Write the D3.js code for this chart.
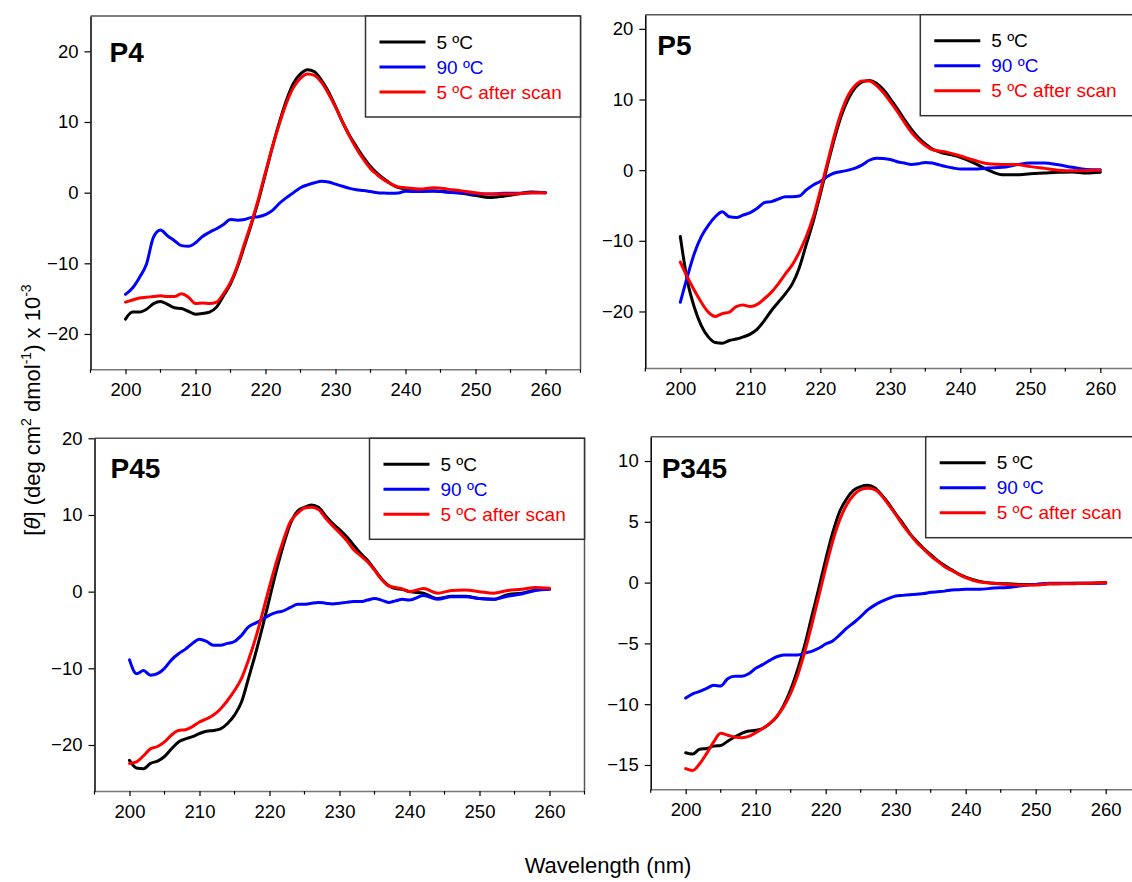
<!DOCTYPE html>
<html>
<head>
<meta charset="utf-8">
<script src="https://cdn.jsdelivr.net/npm/d3@7"></script>
<style>
  html, body { margin: 0; padding: 0; background: #fff; }
  svg { display: block; font-family: "Liberation Sans", Arial, sans-serif; }
</style>
</head>
<body>
<svg id="chart" width="1132" height="882"></svg>
<script>
// Wavelength grid (nm) shared by every spectrum
const wavelength = [200,201,202,203,204,205,206,207,208,209,210,211,212,213,214,215,216,217,218,219,
  220,221,222,223,224,225,226,227,228,229,230,231,232,233,234,235,236,237,238,239,240,
  242,244,246,248,250,252,254,256,258,260];

// Mean residue ellipticity x 10^-3 for each peptide
const p4Cold   = [-17.9,-16.9,-16.9,-16.5,-15.7,-15.4,-15.8,-16.3,-16.4,-16.8,-17.2,-17.1,-16.9,-16.2,-14.6,-12.9,-10.5,-7.5,-4.4,-1.1,
  2.7,6.5,10.0,13.1,15.5,16.8,17.4,17.1,15.9,14.3,12.2,10.0,8.1,6.5,5.0,3.7,2.7,1.9,1.2,0.7,0.5,
  0.25,0.25,0.1,-0.1,-0.4,-0.7,-0.5,-0.2,0.1,0.0];
const p4Hot    = [-14.4,-13.5,-12.0,-10.1,-6.3,-5.3,-6.1,-6.8,-7.5,-7.6,-7.1,-6.2,-5.6,-5.1,-4.5,-3.8,-3.9,-3.8,-3.5,-3.4,
  -3.1,-2.5,-1.5,-0.7,0.0,0.7,1.1,1.4,1.6,1.5,1.2,0.9,0.6,0.4,0.3,0.15,0.0,-0.05,-0.1,-0.05,0.2,
  0.15,0.25,0.05,0.0,-0.2,-0.2,-0.1,-0.1,0.0,0.0];
const p4Refold = [-15.5,-15.2,-14.9,-14.8,-14.7,-14.6,-14.7,-14.7,-14.3,-14.8,-15.7,-15.6,-15.7,-15.5,-14.3,-12.7,-10.3,-7.2,-4.2,-0.85,
  2.9,6.5,9.8,12.7,14.9,16.2,16.8,16.6,15.6,14.0,12.1,10.0,8.0,6.2,4.7,3.4,2.5,1.75,1.2,0.8,0.7,
  0.5,0.7,0.5,0.25,0.0,-0.2,-0.2,-0.15,0.0,0.0];

const p5Cold   = [-9.4,-15.6,-19.4,-22.0,-23.6,-24.4,-24.5,-24.1,-23.9,-23.6,-23.2,-22.5,-21.3,-19.9,-18.7,-17.5,-16.1,-13.8,-10.5,-7.2,
  -3.4,0.6,4.4,7.7,10.1,11.7,12.5,12.7,12.3,11.4,10.1,8.7,7.2,5.8,4.6,3.7,3.0,2.6,2.3,2.1,1.8,
  1.0,0.0,-0.65,-0.65,-0.5,-0.4,-0.3,-0.25,-0.4,-0.3];
const p5Hot    = [-18.7,-15.1,-11.8,-9.4,-7.8,-6.6,-5.9,-6.6,-6.7,-6.35,-6.0,-5.4,-4.6,-4.45,-4.1,-3.75,-3.75,-3.65,-2.8,-2.1,
  -1.6,-0.9,-0.4,-0.2,0.0,0.3,0.75,1.4,1.7,1.65,1.5,1.2,1.0,0.8,0.9,1.1,1.0,0.75,0.5,0.3,0.15,
  0.15,0.3,0.4,0.75,1.0,1.0,0.75,0.4,0.1,0.05];
const p5Refold = [-13.0,-15.1,-17.0,-18.7,-20.1,-20.7,-20.3,-20.1,-19.3,-19.1,-19.3,-19.0,-18.2,-17.3,-16.1,-14.7,-13.4,-11.6,-9.4,-6.6,
  -2.9,1.0,4.9,8.2,10.6,12.0,12.6,12.6,12.0,11.0,9.7,8.3,6.8,5.4,4.3,3.5,2.9,2.7,2.55,2.3,2.0,
  1.4,0.9,0.8,0.8,0.5,0.25,0.0,-0.1,-0.05,0.0];

const p45Cold   = [-22.0,-23.0,-23.1,-22.4,-22.1,-21.5,-20.5,-19.6,-19.2,-18.9,-18.5,-18.2,-18.1,-17.9,-17.2,-16.1,-14.4,-11.3,-8.1,-4.6,
  -0.9,2.8,6.1,8.9,10.5,11.0,11.3,11.0,9.9,8.9,8.1,7.2,6.1,5.0,4.1,2.9,1.7,0.8,0.4,0.3,0.0,
  -0.2,-0.9,-0.6,-0.6,-0.9,-1.0,-0.4,-0.2,0.2,0.35];
const p45Hot    = [-8.9,-10.7,-10.3,-10.9,-10.7,-10.0,-8.9,-8.1,-7.5,-6.75,-6.2,-6.5,-7.0,-7.0,-6.75,-6.5,-5.7,-4.6,-4.1,-3.6,
  -3.05,-2.7,-2.5,-2.05,-1.65,-1.65,-1.5,-1.4,-1.5,-1.6,-1.5,-1.4,-1.3,-1.3,-1.1,-0.9,-1.1,-1.4,-1.2,-1.0,-1.1,
  -0.5,-1.0,-0.65,-0.65,-0.9,-1.0,-0.6,-0.3,0.15,0.3];
const p45Refold = [-22.4,-22.2,-21.4,-20.5,-20.2,-19.6,-18.7,-18.1,-18.0,-17.6,-17.0,-16.6,-16.1,-15.3,-14.2,-12.9,-11.3,-8.9,-6.1,-2.8,
  0.65,3.9,6.75,9.15,10.2,10.9,11.0,10.7,9.6,8.6,7.7,6.7,5.5,4.7,3.9,2.8,1.6,0.75,0.55,0.35,0.0,
  0.4,-0.2,0.15,0.2,0.0,-0.2,0.15,0.3,0.55,0.45];

const p345Cold   = [-14.0,-14.1,-13.7,-13.65,-13.45,-13.4,-13.05,-12.7,-12.4,-12.2,-12.15,-12.0,-11.6,-11.05,-10.1,-8.8,-7.15,-5.15,-2.8,-0.5,
  1.9,4.1,5.85,6.9,7.6,7.9,8.0,7.8,7.2,6.5,5.65,4.9,4.05,3.4,2.8,2.3,1.8,1.4,1.05,0.7,0.45,
  0.1,-0.05,-0.1,-0.15,-0.15,-0.1,-0.08,-0.05,-0.05,0.0];
const p345Hot    = [-9.5,-9.15,-8.95,-8.7,-8.45,-8.5,-7.9,-7.7,-7.7,-7.5,-7.05,-6.75,-6.4,-6.1,-5.95,-5.95,-5.95,-5.8,-5.65,-5.4,
  -5.05,-4.8,-4.3,-3.75,-3.3,-2.8,-2.25,-1.85,-1.55,-1.3,-1.1,-1.05,-1.0,-0.95,-0.9,-0.8,-0.75,-0.7,-0.6,-0.58,-0.55,
  -0.55,-0.45,-0.4,-0.25,-0.15,-0.05,-0.05,-0.05,-0.05,-0.05];
const p345Refold = [-15.3,-15.45,-14.9,-14.05,-13.1,-12.4,-12.55,-12.7,-12.75,-12.65,-12.35,-12.0,-11.6,-11.0,-10.2,-9.1,-7.6,-5.7,-3.5,-1.15,
  1.2,3.4,5.15,6.4,7.2,7.65,7.75,7.65,7.15,6.4,5.6,4.75,4.0,3.3,2.75,2.2,1.75,1.3,1.0,0.7,0.4,
  0.05,-0.05,-0.15,-0.2,-0.2,-0.1,-0.1,-0.08,-0.05,0.0];

// Legend entries and axis ticks
const seriesLabels = ["5 ºC", "90 ºC", "5 ºC after scan"];
const seriesColors = ["#000000", "#0000ff", "#ff0000"];
const panelNames = ["P4", "P5", "P45", "P345"];
const xTicks = [200, 210, 220, 230, 240, 250, 260];
const xMinorTicks = [195, 205, 215, 225, 235, 245, 255, 265];
const p4YTicks = [-20, -10, 0, 10, 20];
const p5YTicks = [-20, -10, 0, 10, 20];
const p45YTicks = [-20, -10, 0, 10, 20];
const p345YTicks = [-15, -10, -5, 0, 5, 10];

// Panel geometry
const panels = [
  { name: panelNames[0], l: 90.5, r: 580.5, t: 16,    b: 369.3, yDomain: [-25, 25], yTicks: p4YTicks,
    series: [p4Cold, p4Hot, p4Refold], lx: 19, ly: 46 },
  { name: panelNames[1], l: 645.3, r: 1135.3, t: 14.7, b: 368,   yDomain: [-28, 22], yTicks: p5YTicks,
    series: [p5Cold, p5Hot, p5Refold], lx: 12, ly: 40 },
  { name: panelNames[2], l: 94.5, r: 584.5, t: 438.3, b: 791,   yDomain: [-26, 20], yTicks: p45YTicks,
    series: [p45Cold, p45Hot, p45Refold], lx: 16, ly: 40 },
  { name: panelNames[3], l: 650.7, r: 1140.7, t: 436.7, b: 789.3, yDomain: [-17, 12], yTicks: p345YTicks,
    series: [p345Cold, p345Hot, p345Refold], lx: 11, ly: 41.5 }
];

const svg = d3.select("#chart");
const drawOrder = [0, 1, 2];

panels.forEach((p, i) => {
  const x = d3.scaleLinear().domain([195, 265]).range([p.l, p.r]);
  const y = d3.scaleLinear().domain(p.yDomain).range([p.b, p.t]);
  const g = svg.append("g").attr("class", "panel");

  const clipId = "clip" + i;
  g.append("clipPath").attr("id", clipId)
    .append("rect").attr("x", p.l).attr("y", p.t).attr("width", p.r - p.l).attr("height", p.b - p.t);

  // top and right frame
  g.append("path")
    .attr("d", `M${p.l},${p.t}H${p.r}V${p.b}`)
    .attr("fill", "none").attr("stroke", "#555").attr("stroke-width", 1.5);

  // spectra
  const line = d3.line()
    .x((d, k) => x(wavelength[k]))
    .y(d => y(d))
    .curve(d3.curveMonotoneX);
  drawOrder.forEach(s => {
    g.append("path")
      .datum(p.series[s])
      .attr("clip-path", `url(#${clipId})`)
      .attr("d", line)
      .attr("fill", "none")
      .attr("stroke", seriesColors[s])
      .attr("stroke-width", 3)
      .attr("stroke-linejoin", "round")
      .attr("stroke-linecap", "round");
  });

  // bottom axis
  const xAxis = d3.axisBottom(x).tickValues(xTicks).tickSize(5).tickPadding(9).tickSizeOuter(0);
  const gx = g.append("g").attr("transform", `translate(0,${p.b})`).call(xAxis);
  gx.select(".domain").attr("stroke", "#777").attr("stroke-width", 1.5);
  gx.selectAll(".tick line").attr("stroke", "#000").attr("stroke-width", 1.2);
  gx.selectAll(".tick text").attr("font-size", 18.5).attr("fill", "#000")
    .attr("font-family", "Liberation Sans, Arial, sans-serif");
  gx.selectAll(".minor").data(xMinorTicks).enter().append("line")
    .attr("class", "minor")
    .attr("x1", d => x(d)).attr("x2", d => x(d))
    .attr("y1", 0).attr("y2", 3.5)
    .attr("stroke", "#000").attr("stroke-width", 1.2);

  // left axis
  const yAxis = d3.axisLeft(y).tickValues(p.yTicks).tickSize(6).tickPadding(6).tickSizeOuter(0);
  const gy = g.append("g").attr("transform", `translate(${p.l},0)`).call(yAxis);
  gy.select(".domain").attr("stroke", "#000").attr("stroke-width", 1.5);
  gy.selectAll(".tick line").attr("stroke", "#000").attr("stroke-width", 1.2);
  gy.selectAll(".tick text").attr("font-size", 18.5).attr("fill", "#000")
    .attr("font-family", "Liberation Sans, Arial, sans-serif");

  // panel name
  g.append("text")
    .attr("x", p.l + p.lx).attr("y", p.t + p.ly)
    .attr("font-size", 28).attr("font-weight", "bold")
    .text(p.name);

  // legend
  const lgW = 215, lgH = 101;
  const lg = g.append("g").attr("transform", `translate(${p.r - lgW},${p.t})`);
  lg.append("rect").attr("width", lgW).attr("height", lgH)
    .attr("fill", "#fff").attr("stroke", "#333").attr("stroke-width", 1.5);
  seriesLabels.forEach((lab, s) => {
    const yy = 26 + s * 25;
    lg.append("line").attr("x1", 14).attr("x2", 60).attr("y1", yy).attr("y2", yy)
      .attr("stroke", seriesColors[s]).attr("stroke-width", 3);
    lg.append("text").attr("x", 71).attr("y", yy + 6.5)
      .attr("font-size", 19).attr("fill", seriesColors[s]).text(lab);
  });
});

// shared axis titles
svg.append("text")
  .attr("x", 608).attr("y", 873)
  .attr("text-anchor", "middle").attr("font-size", 22)
  .text("Wavelength (nm)");

const yt = svg.append("text")
  .attr("transform", "translate(40,410) rotate(-90)")
  .attr("text-anchor", "middle").attr("font-size", 22);
yt.append("tspan").text("[");
yt.append("tspan").attr("font-style", "italic").text("θ");
yt.append("tspan").text("] (deg cm");
yt.append("tspan").attr("font-size", 14).attr("dy", -9).text("2");
yt.append("tspan").attr("dy", 9).text(" dmol");
yt.append("tspan").attr("font-size", 14).attr("dy", -9).text("-1");
yt.append("tspan").attr("dy", 9).text(") x 10");
yt.append("tspan").attr("font-size", 14).attr("dy", -9).text("-3");
</script>
</body>
</html>
